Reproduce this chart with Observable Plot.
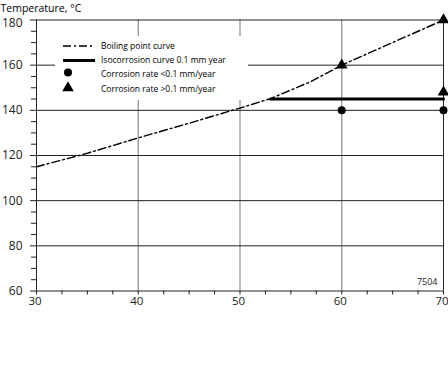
<!DOCTYPE html>
<html><head><meta charset="utf-8">
<script src="https://cdn.jsdelivr.net/npm/d3@7"></script>
<script src="https://cdn.jsdelivr.net/npm/@observablehq/plot@0.6"></script>
<style>
body{margin:0;background:#fff;font-family:"Open Sans",sans-serif}
#wrap{position:relative;width:448px;height:378px;overflow:hidden}
#legend{position:absolute;left:55px;top:36px;width:193px;height:64px;background:#fff}
</style></head><body><div id="wrap"><div id="legend"></div></div>
<script>
// Boiling point curve (°C vs %)
const boilX = [30, 35, 40, 45, 50, 53, 57, 60, 65, 70];
const boilY = [115, 121, 127.8, 134.3, 141, 145.2, 152.8, 160, 170, 180];
// Isocorrosion curve 0.1 mm/year
const isoX = [53, 70];
const isoY = [145, 145];
// Corrosion rate < 0.1 mm/year (circles)
const lowX = [60, 70];
const lowY = [140, 140];
// Corrosion rate > 0.1 mm/year (triangles)
const highX = [60, 70, 70];
const highY = [160, 180, 148];
// Ticks
const xTicks = [30, 40, 50, 60, 70];
const xMinor = [32.5, 35, 37.5, 42.5, 45, 47.5, 52.5, 55, 57.5, 62.5, 65, 67.5];
const yTicks = [60, 80, 100, 120, 140, 160];
const yTopTick = [180];
const yMinor = [65, 70, 75, 85, 90, 95, 105, 110, 115, 125, 130, 135, 145, 150, 155, 165, 170, 175];
const hGrid = [80, 100, 120, 140, 160, 180];
const vGrid = [40, 50, 60];
const legendLabels = ["Boiling point curve", "Isocorrosion curve 0.1 mm year", "Corrosion rate <0.1 mm/year", "Corrosion rate >0.1 mm/year"];
const yTitle = "Temperature, °C";
const figNote = "7504";

const boil = boilX.map((x, i) => ({x, y: boilY[i]}));
const iso = isoX.map((x, i) => ({x, y: isoY[i]}));
const low = lowX.map((x, i) => ({x, y: lowY[i]}));
const high = highX.map((x, i) => ({x, y: highY[i]}));
const DASH = "8,3,2,3";
const INK = "#222";

const chart = Plot.plot({
  width: 448, height: 378,
  marginLeft: 36, marginRight: 5, marginTop: 19.5, marginBottom: 87.5,
  x: {domain: [30, 70], axis: null},
  y: {domain: [60, 180], axis: null},
  style: {fontFamily: "'Open Sans', sans-serif", fontSize: "12px", color: INK, background: "#fff", overflow: "visible"},
  marks: [
    Plot.ruleX(vGrid, {y1: 60, y2: 180, stroke: "#8c8c8c", strokeWidth: 1.2}),
    Plot.ruleY(hGrid, {x1: 30, x2: 70, stroke: INK, strokeWidth: 1}),
    Plot.ruleX([70], {y1: 60, y2: 180, stroke: INK, strokeWidth: 1}),
    Plot.ruleX([30], {y1: 60, y2: 180, stroke: INK, strokeWidth: 1}),
    Plot.ruleY([60], {x1: 30, x2: 70, stroke: INK, strokeWidth: 1}),
    Plot.ruleY(yMinor, {x1: 30, x2: 30, insetLeft: -5, stroke: INK, strokeWidth: 1}),
    Plot.ruleY(yTicks.concat(yTopTick), {x1: 30, x2: 30, insetLeft: -6, stroke: INK, strokeWidth: 1}),
    Plot.text(yTicks, {y: d => d, frameAnchor: "left", text: d => String(d), textAnchor: "end", dx: -14, fontSize: 12, fill: INK}),
    Plot.text(yTopTick, {y: d => d, frameAnchor: "left", text: d => String(d), textAnchor: "end", dx: -14, dy: 3, fontSize: 12, fill: INK}),
    Plot.ruleX(xMinor.concat(xTicks), {y1: 60, y2: 60, insetBottom: -4, stroke: INK, strokeWidth: 1}),
    Plot.text(xTicks, {x: d => d, frameAnchor: "bottom", text: d => String(d), lineAnchor: "top", dy: 6, dx: -1.5, fontSize: 11.5, fill: INK}),
    Plot.line(boil, {x: "x", y: "y", stroke: "#000", strokeWidth: 1.4, strokeDasharray: DASH}),
    Plot.line(iso, {x: "x", y: "y", stroke: "#000", strokeWidth: 3}),
    Plot.dot(low, {x: "x", y: "y", r: 4, fill: "#000", symbol: "circle"}),
    Plot.dot(high, {x: "x", y: "y", r: 4.3, fill: "#000", symbol: "triangle"}),
    Plot.text([yTitle], {frameAnchor: "top-left", text: d => d, dx: -36, dy: -11.5, textAnchor: "start", lineAnchor: "middle", fontSize: 10.5, fill: "#000"}),
    Plot.text([figNote], {frameAnchor: "bottom-right", text: d => d, dx: -6, dy: -6, textAnchor: "end", fontSize: 9, fill: INK})
  ]
});
document.getElementById("wrap").prepend(chart);

// Legend overlay
const lg = d3.select("#legend").append("svg").attr("width", 193).attr("height", 64)
  .style("font-family", "'Open Sans', sans-serif").style("font-size", "8.5px");
const rowsY = [10, 24.5, 38, 53];
lg.append("line").attr("x1", 8).attr("x2", 40).attr("y1", rowsY[0]).attr("y2", rowsY[0])
  .attr("stroke", "#000").attr("stroke-width", 1.4).attr("stroke-dasharray", DASH);
lg.append("line").attr("x1", 8).attr("x2", 40).attr("y1", rowsY[1]).attr("y2", rowsY[1])
  .attr("stroke", "#000").attr("stroke-width", 3);
lg.append("path").attr("transform", `translate(13,${rowsY[2] - 1.5})`).attr("d", d3.symbol(d3.symbolCircle, Math.PI * 16)()).attr("fill", "#000");
lg.append("path").attr("transform", `translate(13,${rowsY[3] - 1})`).attr("d", d3.symbol(d3.symbolTriangle, Math.PI * 4.3 * 4.3)()).attr("fill", "#000");
legendLabels.forEach((t, i) => {
  lg.append("text").attr("x", 46).attr("y", rowsY[i]).attr("dy", "0.35em").text(t);
});
</script>
</body></html>
